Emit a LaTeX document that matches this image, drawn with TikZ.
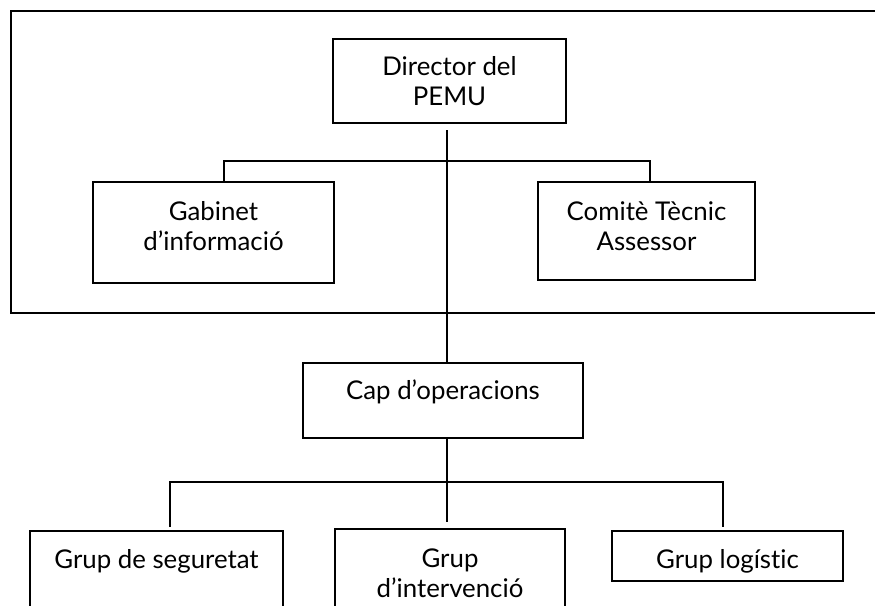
\documentclass[tikz,border=0pt]{standalone}
\usepackage{fontspec}
\setmainfont{Lato}[Ligatures=NoCommon]
\usetikzlibrary{positioning,calc}

\begin{document}
\begin{tikzpicture}
[x=0.5pt,y=-0.5pt,line width=1pt,
caixa/.style={rectangle,draw,align=center,inner sep=0pt,
font=\fontsize{12.9pt}{15pt}\selectfont}]
\useasboundingbox (0,0) rectangle (875,606);
\draw (10.7,10.7) rectangle (890,313);

\node (dir) at (449.5,81)[caixa,minimum width=116.5pt,minimum height=42pt] {Director del\\PEMU};
\node (gab) at (213.5,232.5)[caixa,minimum width=120.5pt,minimum height=50.5pt,
  text height=24pt,text depth=6.5pt] {Gabinet\\d'informació};
\node (com) at (646.5,231)[caixa,minimum width=108.5pt,minimum height=49pt,
  text height=24pt,text depth=5pt] {Comitè Tècnic\\Assessor};
\node (cap) at (443,400.5)[caixa,minimum width=140pt,minimum height=37.5pt,
  text height=9pt,text depth=10.5pt] {Cap d'operacions};
\node (seg) at (156.5,581)[caixa,minimum width=126.5pt,minimum height=50pt,
  text height=9pt,text depth=22pt] {Grup de seguretat};
\node (int) at (450,579)[caixa,minimum width=115pt,minimum height=50pt,
  text height=24pt,text depth=6pt] {Grup\\d'intervenció};
\node (log) at (727.5,556)[caixa,minimum width=115.5pt,minimum height=25pt,
  text height=12pt,text depth=0pt] {Grup logístic};

\coordinate (t1) at (447,161);
\coordinate (t2) at (447,482);

\draw ([xshift=5.25pt]gab.north) |- (t1) -| ([xshift=1.75pt]com.north);
\draw[shorten <=3pt] (t1 |- dir.south) -- (t1 |- cap.north);
\draw[shorten >=3pt] (t1 |- cap.south) -- (t1 |- int.north);
\draw[shorten <=1.5pt,shorten >=1.5pt] ([xshift=6.75pt]seg.north) |- (t2) -| ([xshift=-2.25pt]log.north);

\end{tikzpicture}
\end{document}
